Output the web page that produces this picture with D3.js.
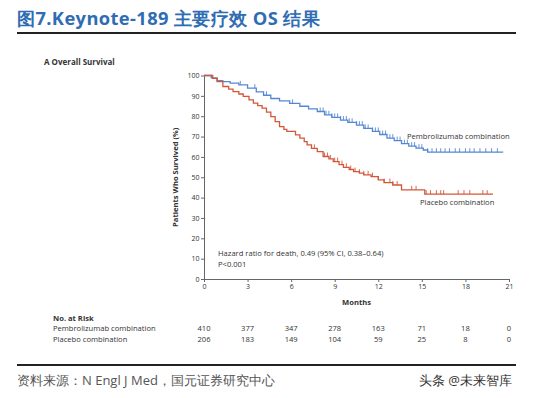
<!DOCTYPE html>
<html>
<head>
<meta charset="utf-8">
<script src="https://cdn.jsdelivr.net/npm/d3@7"></script>
<style>
  body { margin: 0; background: #fff; }
  svg { display: block; }
  text { font-family: "Open Sans", "Noto Sans", sans-serif; }
</style>
</head>
<body>
<svg id="chart"></svg>
<script>
// Kaplan-Meier steps (months, % surviving)
const pemTimes = [0, 0.5, 0.9, 1.3, 1.8, 2.4, 3.0, 3.6, 4.1, 4.6, 5.2, 5.9, 6.6, 7.2, 7.8, 8.3, 8.8, 9.4, 9.9, 10.5, 11.0, 11.6, 12.1, 12.6, 13.1, 13.6, 14.1, 14.6, 15.1, 15.4, 20.6]
const pemSurv = [100, 98.8, 97.5, 97.0, 96.3, 95.4, 93.8, 92.0, 90.3, 88.7, 87.5, 86.3, 84.9, 83.6, 82.3, 80.7, 79.4, 78.1, 77.0, 75.6, 74.0, 72.5, 71.0, 69.2, 68.0, 66.5, 65.3, 64.3, 63.4, 62.3, 62.3]
const pemCensor = [2.5, 3.5, 4.3, 6.1, 8.0, 8.2, 8.4, 8.6, 8.8, 9.0, 9.2, 9.4, 9.6, 9.8, 10.0, 10.2, 10.5, 10.7, 10.9, 11.1, 11.3, 11.6, 11.8, 12.0, 12.3, 12.5, 12.8, 13.0, 13.3, 13.5, 13.8, 14.0, 14.3, 14.5, 14.8, 15.0, 15.4, 15.7, 16.0, 16.3, 16.6, 16.9, 17.3, 17.6, 18.0, 18.3, 18.6, 19.0, 19.4, 19.8, 20.2]

const plaTimes = [0, 0.6, 0.9, 1.3, 1.7, 2.0, 2.4, 2.7, 3.1, 3.4, 3.7, 4.0, 4.3, 4.6, 4.9, 5.2, 5.5, 5.7, 6.3, 6.6, 6.9, 7.1, 7.4, 7.8, 8.2, 8.6, 8.9, 9.3, 9.6, 10.0, 10.3, 10.7, 11.0, 11.5, 12.0, 12.4, 13.0, 13.6, 15.2, 19.9]
const plaSurv = [100, 98.6, 97.0, 94.6, 93.3, 92.1, 90.9, 89.7, 88.0, 86.4, 85.2, 84.0, 82.0, 79.8, 77.3, 74.9, 73.5, 72.5, 70.8, 69.2, 67.5, 65.9, 64.2, 62.6, 60.2, 59.0, 57.7, 56.2, 54.9, 53.8, 52.8, 52.0, 51.2, 50.3, 48.7, 47.4, 46.2, 43.8, 41.7, 41.7]
const plaCensor = [7.6, 8.3, 8.5, 8.7, 9.0, 9.2, 9.5, 9.8, 10.1, 10.4, 10.7, 11.0, 11.3, 11.6, 12.0, 12.4, 12.8, 13.0, 13.3, 14.3, 14.6, 15.3, 15.6, 16.0, 16.3, 16.5, 17.5, 17.9, 18.3, 19.2, 19.5]

const monthTicks = [0, 3, 6, 9, 12, 15, 18, 21]
const survTicks = [0, 10, 20, 30, 40, 50, 60, 70, 80, 90, 100]
const riskLabels = ['Pembrolizumab combination', 'Placebo combination']
const pemRisk = [410, 377, 347, 278, 163, 71, 18, 0]
const plaRisk = [206, 183, 149, 104, 59, 25, 8, 0]

const W = 554, H = 398
const blue = '#5687d4', red = '#d4573a', axisCol = '#666'
const fs = 7.6
const svg = d3.select('#chart').attr('width', W).attr('height', H)
svg.append('rect').attr('width', W).attr('height', H).attr('fill', '#fff')

// header
svg.append('text').attr('x', 17).attr('y', 25)
  .attr('font-family', '"Liberation Sans", "Noto Sans CJK SC", sans-serif')
  .attr('font-size', 18.3).attr('font-weight', 'bold').attr('fill', '#2f6db3')
  .attr('letter-spacing', 0.4)
  .text('图7.Keynote-189 主要疗效 OS 结果')
svg.append('line').attr('x1', 17).attr('x2', 516).attr('y1', 33).attr('y2', 33)
  .attr('stroke', '#222').attr('stroke-width', 2)

svg.append('text').attr('x', 44).attr('y', 65).attr('font-size', 8).attr('font-weight', 'bold').attr('fill', '#333')
  .text('A   Overall Survival')

const x = d3.scaleLinear().domain([0, 21]).range([204, 509])
const y = d3.scaleLinear().domain([0, 100]).range([279, 75.5])

const g = svg.append('g')
const yAxis = g.append('g').attr('transform', `translate(${x(0)},0)`)
  .call(d3.axisLeft(y).tickValues(survTicks).tickSize(3).tickPadding(1.5).tickSizeOuter(0))
const xAxis = g.append('g').attr('transform', `translate(0,${y(0)})`)
  .call(d3.axisBottom(x).tickValues(monthTicks).tickSize(3).tickPadding(2).tickSizeOuter(0))
for (const ax of [yAxis, xAxis]) {
  ax.select('.domain').attr('stroke', axisCol)
  ax.selectAll('.tick line').attr('stroke', axisCol)
  ax.selectAll('.tick text').attr('font-family', '"Open Sans", sans-serif').attr('font-size', 7).attr('fill', '#333')
}

g.append('text').attr('transform', `translate(178,${y(50)}) rotate(-90)`)
  .attr('text-anchor', 'middle').attr('font-size', fs).attr('font-weight', 'bold').attr('fill', '#333')
  .text('Patients Who Survived (%)')
g.append('text').attr('x', x(10.5)).attr('y', 305).attr('text-anchor', 'middle')
  .attr('font-size', fs).attr('font-weight', 'bold').attr('fill', '#333').text('Months')

const stepLine = d3.line().x(d => x(d[0])).y(d => y(d[1])).curve(d3.curveStepAfter)
const survAt = (times, surv, t) => surv[d3.bisectRight(times, t) - 1]

const series = [
  { times: pemTimes, surv: pemSurv, censor: pemCensor, color: blue },
  { times: plaTimes, surv: plaSurv, censor: plaCensor, color: red }
]
series.forEach(s => {
  g.append('path').datum(d3.zip(s.times, s.surv))
    .attr('d', stepLine).attr('fill', 'none').attr('stroke', s.color).attr('stroke-width', 1.3)
  g.append('g').selectAll('line').data(s.censor).join('line')
    .attr('x1', d => x(d)).attr('x2', d => x(d))
    .attr('y1', d => y(survAt(s.times, s.surv, d)))
    .attr('y2', d => y(survAt(s.times, s.surv, d)) - 4)
    .attr('stroke', s.color).attr('stroke-width', 0.9)
})

g.append('text').attr('x', 407).attr('y', 139).attr('font-size', fs).attr('fill', '#333').text('Pembrolizumab combination')
g.append('text').attr('x', 420).attr('y', 205).attr('font-size', fs).attr('fill', '#333').text('Placebo combination')
g.append('text').attr('x', 218).attr('y', 256).attr('font-size', fs).attr('fill', '#333').text('Hazard ratio for death, 0.49 (95% CI, 0.38–0.64)')
g.append('text').attr('x', 218).attr('y', 267).attr('font-size', fs).attr('fill', '#333').text('P<0.001')

// number at risk
const risk = svg.append('g')
risk.append('text').attr('x', 53).attr('y', 321).attr('font-size', fs).attr('font-weight', 'bold').attr('fill', '#333').text('No. at Risk')
;[pemRisk, plaRisk].forEach((row, i) => {
  const ry = 331 + i * 11
  risk.append('text').attr('x', 53).attr('y', ry).attr('font-size', fs).attr('fill', '#333').text(riskLabels[i])
  risk.append('g').selectAll('text').data(row).join('text')
    .attr('x', (d, j) => x(monthTicks[j])).attr('y', ry).attr('text-anchor', 'middle')
    .attr('font-size', fs).attr('fill', '#333').text(d => d)
})

// footer
svg.append('line').attr('x1', 17).attr('x2', 516).attr('y1', 365).attr('y2', 365)
  .attr('stroke', '#222').attr('stroke-width', 2)
svg.append('text').attr('x', 17).attr('y', 385)
  .attr('font-family', '"Noto Sans CJK SC", "Liberation Sans", sans-serif')
  .attr('font-size', 13).attr('fill', '#555').text('资料来源：N Engl J Med，国元证券研究中心')
svg.append('text').attr('x', 512).attr('y', 385).attr('text-anchor', 'end')
  .attr('font-family', '"Noto Sans CJK SC", sans-serif')
  .attr('font-size', 13).attr('fill', '#333').text('头条 @未来智库')
</script>
</body>
</html>
